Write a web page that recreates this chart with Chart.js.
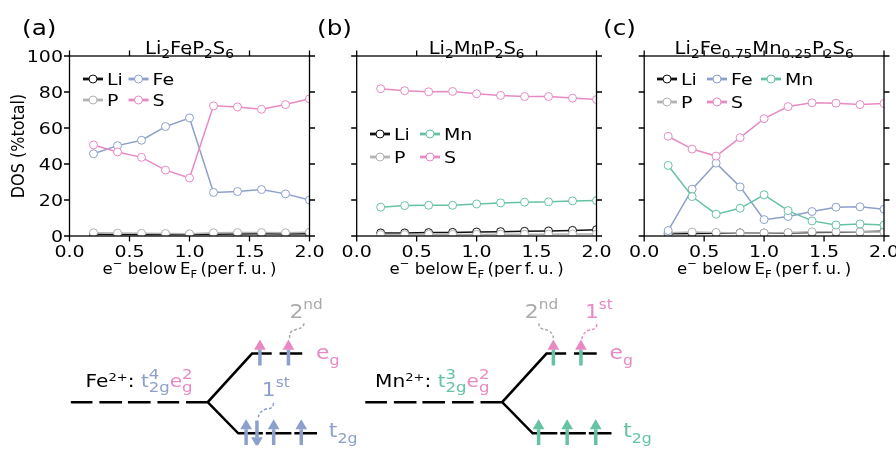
<!DOCTYPE html>
<html>
<head>
<meta charset="utf-8">
<script src="https://cdn.jsdelivr.net/npm/chart.js@4.4.0/dist/chart.umd.min.js"></script>
<style>
  html, body { margin: 0; padding: 0; background: #fff; }
  #wrap { position: relative; width: 896px; height: 452px; overflow: hidden; }
  canvas { position: absolute; left: 0; }
</style>
</head>
<body>
<div id="wrap">
  <canvas id="chartA" width="896" height="290" style="top:0"></canvas>
  <canvas id="chartB" width="896" height="290" style="top:0"></canvas>
  <canvas id="chartC" width="896" height="290" style="top:0"></canvas>
  <canvas id="scheme" width="896" height="162" style="top:290px"></canvas>
</div>
<script>
// ---- data ----
const xValues = [0.2, 0.4, 0.6, 0.8, 1.0, 1.2, 1.4, 1.6, 1.8, 2.0];
const xTicks = [0, 0.5, 1, 1.5, 2];
const xTickLabels = ['0.0', '0.5', '1.0', '1.5', '2.0'];
const yTicks = [0, 20, 40, 60, 80, 100];

// (a) Li2FeP2S6
const feLi = [1.0, 0.9, 0.9, 0.9, 0.8, 1.0, 1.1, 1.2, 1.1, 1.3];
const feP  = [1.8, 1.6, 1.5, 1.4, 1.2, 1.8, 1.9, 1.9, 1.8, 2.1];
const feFe = [45.7, 50.2, 53.2, 60.8, 65.6, 24.2, 24.7, 25.8, 23.4, 20.0];
const feS  = [50.6, 46.7, 43.7, 36.6, 32.2, 72.3, 71.7, 70.4, 73.0, 76.2];
// (b) Li2MnP2S6
const mnLi = [1.7, 1.7, 1.9, 2.0, 2.2, 2.4, 2.6, 2.8, 3.1, 3.5];
const mnP  = [0.8, 0.8, 0.9, 0.9, 0.9, 1.0, 1.0, 1.0, 1.1, 1.1];
const mnMn = [16.0, 16.9, 17.1, 17.1, 17.8, 18.4, 18.8, 19.0, 19.5, 19.7];
const mnS  = [81.8, 80.7, 80.1, 80.3, 79.0, 78.1, 77.5, 77.5, 76.6, 75.8];
// (c) Li2Fe0.75Mn0.25P2S6
const mixLi = [1.2, 1.4, 1.5, 1.7, 1.6, 1.7, 1.9, 2.1, 2.3, 2.6];
const mixP  = [1.8, 2.2, 2.0, 1.6, 1.7, 1.9, 2.3, 2.4, 2.3, 2.2];
const mixFe = [3.0, 26.0, 40.5, 27.3, 9.1, 10.8, 13.6, 16.0, 16.2, 14.9];
const mixS  = [55.4, 48.3, 44.4, 54.6, 65.2, 71.9, 74.0, 73.8, 73.0, 73.6];
const mixMn = [39.2, 21.9, 12.1, 15.4, 22.9, 14.1, 8.4, 6.1, 6.7, 6.1];

const colors = { Li: '#111111', P: '#b3b3b3', Fe: '#8da0cb', Mn: '#66c2a5', S: '#e78ac3' };

// ---- text helpers (sub/superscripts) ----
const FONT = '"DejaVu Sans"';
const TEXT_SX = 1.15;
const sub = (t, c) => ({ t, c, s: 0.7, dy: 0.24 });

function segWidth(ctx, seg, size) {
  ctx.font = (size * (seg.s || 1)) + 'px ' + FONT;
  if (seg.stack) return Math.max(ctx.measureText(seg.stack[0]).width, ctx.measureText(seg.stack[1]).width);
  return ctx.measureText(seg.t).width;
}

// fitW: optional total width on screen
function drawRich(ctx, segs, x, y, size, align, fitW) {
  let w = 0;
  segs.forEach(sg => { w += segWidth(ctx, sg, size); });
  const sx = fitW ? fitW / w : TEXT_SX;
  ctx.save();
  ctx.translate(x, y);
  ctx.scale(sx, 1);
  ctx.textAlign = 'left';
  ctx.textBaseline = 'alphabetic';
  let cx = align === 'center' ? -w / 2 : (align === 'right' ? -w : 0);
  segs.forEach(sg => {
    const sw = segWidth(ctx, sg, size);
    ctx.fillStyle = sg.c || '#000';
    if (sg.stack) {
      ctx.fillText(sg.stack[0], cx, -0.45 * size);
      ctx.fillText(sg.stack[1], cx, 0.33 * size);
    } else {
      ctx.fillText(sg.t, cx, (sg.dy || 0) * size);
    }
    cx += sw;
  });
  ctx.restore();
}

const xLabelSegs = [{ t: 'e' }, { t: '\u2212', s: 0.7, dy: -0.45 }, { t: ' below\u2009' }, { t: 'E' }, sub('F'),
  { t: '\u2009(per\u2009f.\u2009u.\u2009)' }];

// ---- panel decoration: frame, ticks, labels, legend ----
const panelDecor = {
  id: 'panelDecor',
  afterDraw(chart, args, o) {
    const { ctx, chartArea: a } = chart;
    const xs = chart.scales.x, ys = chart.scales.y;
    ctx.save();
    ctx.strokeStyle = '#000';
    ctx.lineWidth = 1.3;
    ctx.strokeRect(a.left, a.top, a.right - a.left, a.bottom - a.top);
    ctx.beginPath();
    xTicks.forEach(v => {
      const px = xs.getPixelForValue(v);
      ctx.moveTo(px, a.bottom); ctx.lineTo(px, a.bottom + 5.5);
      ctx.moveTo(px, a.top); ctx.lineTo(px, a.top - 5.5);
    });
    yTicks.forEach(v => {
      const py = ys.getPixelForValue(v);
      ctx.moveTo(a.left, py); ctx.lineTo(a.left - 5.5, py);
      ctx.moveTo(a.right, py); ctx.lineTo(a.right + 5.5, py);
    });
    ctx.stroke();

    xTicks.forEach((v, i) => drawRich(ctx, [{ t: xTickLabels[i] }], xs.getPixelForValue(v), 257, 16.5, 'center'));
    if (o.yLabels) {
      yTicks.forEach(v => drawRich(ctx, [{ t: String(v) }], a.left - 6.5, ys.getPixelForValue(v) + 6, 16.5, 'right'));
      ctx.save();
      ctx.translate(19, (a.top + a.bottom) / 2);
      ctx.scale(TEXT_SX, 1);
      ctx.rotate(-Math.PI / 2);
      ctx.font = '16px ' + FONT;
      ctx.fillStyle = '#000';
      ctx.textAlign = 'center';
      ctx.textBaseline = 'middle';
      ctx.fillText('DOS (%total)', 0, 0);
      ctx.restore();
    }
    drawRich(ctx, xLabelSegs, (a.left + a.right) / 2, 274, 16, 'center', 174);
    drawRich(ctx, o.title, (a.left + a.right) / 2, 54, 17, 'center');
    drawRich(ctx, [{ t: o.letter }], o.letterX, 35, 21.5, 'left');

    // legend
    o.legend.items.forEach(it => {
      const hx = o.legend.cols[it.col], hy = o.legend.rows[it.row];
      const c = colors[it.name];
      ctx.strokeStyle = c;
      ctx.lineWidth = 2.8;
      ctx.beginPath(); ctx.moveTo(hx, hy); ctx.lineTo(hx + 20, hy); ctx.stroke();
      ctx.lineWidth = 1;
      ctx.fillStyle = '#fff';
      ctx.beginPath(); ctx.arc(hx + 10, hy, 4, 0, Math.PI * 2); ctx.fill(); ctx.stroke();
      drawRich(ctx, [{ t: it.name }], hx + 24, hy + 6, 16.5, 'left');
    });
    ctx.restore();
  }
};

function panelChart(id, area, series, decor) {
  return new Chart(document.getElementById(id), {
    type: 'scatter',
    data: {
      datasets: series.map((s, i) => ({
        label: s.name,
        data: xValues.map((x, j) => ({ x, y: s.values[j] })),
        showLine: true,
        borderColor: colors[s.name],
        borderWidth: 1.5,
        pointRadius: 4,
        pointBorderWidth: 1,
        pointBackgroundColor: '#fff',
        pointBorderColor: colors[s.name],
        order: series.length - i
      }))
    },
    options: {
      responsive: false,
      animation: false,
      layout: { padding: { left: area.left, right: 896 - area.right, top: area.top, bottom: 290 - area.bottom } },
      scales: {
        x: { type: 'linear', min: 0, max: 2, display: false },
        y: { type: 'linear', min: 0, max: 100, display: false }
      },
      plugins: { legend: { display: false }, tooltip: { enabled: false }, panelDecor: decor }
    },
    plugins: [panelDecor]
  });
}

panelChart('chartA', { left: 69.5, right: 309.5, top: 56, bottom: 236 },
  [{ name: 'Li', values: feLi }, { name: 'P', values: feP }, { name: 'Fe', values: feFe }, { name: 'S', values: feS }],
  {
    yLabels: true, letter: '(a)', letterX: 22,
    title: [{ t: 'Li' }, sub('2'), { t: 'FeP' }, sub('2'), { t: 'S' }, sub('6')],
    legend: { cols: [83, 128.5], rows: [79, 100],
      items: [{ name: 'Li', col: 0, row: 0 }, { name: 'P', col: 0, row: 1 }, { name: 'Fe', col: 1, row: 0 }, { name: 'S', col: 1, row: 1 }] }
  });

panelChart('chartB', { left: 356.7, right: 596.5, top: 56, bottom: 236 },
  [{ name: 'Li', values: mnLi }, { name: 'P', values: mnP }, { name: 'Mn', values: mnMn }, { name: 'S', values: mnS }],
  {
    yLabels: false, letter: '(b)', letterX: 317,
    title: [{ t: 'Li' }, sub('2'), { t: 'MnP' }, sub('2'), { t: 'S' }, sub('6')],
    legend: { cols: [370, 420], rows: [134, 157],
      items: [{ name: 'Li', col: 0, row: 0 }, { name: 'P', col: 0, row: 1 }, { name: 'Mn', col: 1, row: 0 }, { name: 'S', col: 1, row: 1 }] }
  });

panelChart('chartC', { left: 644.2, right: 884, top: 56, bottom: 236 },
  [{ name: 'Li', values: mixLi }, { name: 'P', values: mixP }, { name: 'Fe', values: mixFe }, { name: 'S', values: mixS }, { name: 'Mn', values: mixMn }],
  {
    yLabels: false, letter: '(c)', letterX: 603,
    title: [{ t: 'Li' }, sub('2'), { t: 'Fe' }, sub('0.75'), { t: 'Mn' }, sub('0.25'), { t: 'P' }, sub('2'), { t: 'S' }, sub('6')],
    legend: { cols: [657, 707, 761], rows: [79, 102],
      items: [{ name: 'Li', col: 0, row: 0 }, { name: 'P', col: 0, row: 1 }, { name: 'Fe', col: 1, row: 0 },
              { name: 'S', col: 1, row: 1 }, { name: 'Mn', col: 2, row: 0 }] }
  });

// ---- crystal-field schemes (d) Fe2+, (e) Mn2+ ----
// units: px-like, x relative to the split point, y = energy (up)
const schemeOffsets = [0, 299];
const EG = 53, T2G = -34;
const levelPaths = [
  [[-139, 0], [-117, 0]], [[-110, 0], [-87, 0]], [[-81, 0], [-58, 0]], [[-51, 0], [-29, 0]],
  [[-22, 0], [0, 0], [45, EG], [65, EG]], [[73, EG], [96, EG]],
  [[0, 0], [31, T2G], [56, T2G]], [[59, T2G], [85, T2G]], [[88, T2G], [111, T2G]]
];
// arrows: x, level, direction (1 up / -1 down), shaft colour, head colour
const feArrows = [
  { x: 53, lvl: EG, dir: 1, shaft: 'Fe', head: 'S' }, { x: 82, lvl: EG, dir: 1, shaft: 'Fe', head: 'S' },
  { x: 39, lvl: T2G, dir: 1, shaft: 'Fe', head: 'Fe' }, { x: 50, lvl: T2G, dir: -1, shaft: 'Fe', head: 'Fe' },
  { x: 67, lvl: T2G, dir: 1, shaft: 'Fe', head: 'Fe' }, { x: 95, lvl: T2G, dir: 1, shaft: 'Fe', head: 'Fe' }
];
const mnArrows = [
  { x: 52, lvl: EG, dir: 1, shaft: 'Mn', head: 'S' }, { x: 80, lvl: EG, dir: 1, shaft: 'Mn', head: 'S' },
  { x: 37, lvl: T2G, dir: 1, shaft: 'Mn', head: 'Mn' }, { x: 66, lvl: T2G, dir: 1, shaft: 'Mn', head: 'Mn' },
  { x: 95, lvl: T2G, dir: 1, shaft: 'Mn', head: 'Mn' }
];
// dashed wiggles pointing from the ordinal labels to the arrows
const wiggles = [
  { off: 0, c: '#8da0cb', pts: [[67, -1], [65, -6], [58, -8], [53, -12], [51, -18]] },
  { off: 0, c: '#aaaaaa', pts: [[98, 86], [96, 82], [89, 79], [84, 76], [83, 70]] },
  { off: 299, c: '#aaaaaa', pts: [[37, 86], [39, 81], [47, 78], [51, 74], [52, 70]] },
  { off: 299, c: '#e78ac3', pts: [[96, 85], [95, 81], [87, 78], [82, 73], [81, 69]] }
];

function schemeDatasets() {
  const ds = [];
  const black = [];
  schemeOffsets.forEach(off => {
    levelPaths.forEach(p => {
      p.forEach(([x, y]) => black.push({ x: x + off, y }));
      black.push({ x: p[p.length - 1][0] + off, y: null });
    });
  });
  ds.push({ data: black, showLine: true, borderColor: '#000', borderWidth: 2.5, pointRadius: 0, borderCapStyle: 'butt', order: 3 });

  [[feArrows, 0], [mnArrows, 299]].forEach(([arrows, off]) => {
    arrows.forEach(a => {
      const tail = a.dir > 0 ? a.lvl - 13 : a.lvl + 14;
      const neck = a.dir > 0 ? a.lvl + 4.5 : a.lvl - 4.5;
      ds.push({ data: [{ x: a.x + off, y: tail }, { x: a.x + off, y: neck }], showLine: true,
        borderColor: colors[a.shaft], borderWidth: 3.5, pointRadius: 0, borderCapStyle: 'butt', order: 2 });
      ds.push({ data: [{ x: a.x + off, y: a.lvl + a.dir * 8 }], showLine: false, pointStyle: 'triangle',
        pointRadius: 6.8, rotation: a.dir > 0 ? 0 : 180, pointBackgroundColor: colors[a.head],
        pointBorderWidth: 0, pointBorderColor: colors[a.head], order: 1 });
    });
  });

  wiggles.forEach(w => {
    ds.push({ data: w.pts.map(([x, y]) => ({ x: x + w.off, y })), showLine: true, tension: 0.45,
      borderColor: w.c, borderWidth: 1.5, borderDash: [3, 2], pointRadius: 0, order: 0 });
  });
  return ds;
}

const blue = colors.Fe, green = colors.Mn, pink = colors.S, grey = '#aaaaaa';
const schemeText = {
  id: 'schemeText',
  afterDraw(chart) {
    const { ctx } = chart;
    const xs = chart.scales.x, ys = chart.scales.y;
    const P = (x, y) => [xs.getPixelForValue(x), ys.getPixelForValue(y)];
    const put = (segs, x, y, size) => { const [px, py] = P(x, y); drawRich(ctx, segs, px, py, size, 'left'); };
    const ordinal = (n, s, c) => [{ t: n, c }, { t: s, c, s: 0.7, dy: -0.45 }];

    drawRich(ctx, [{ t: '(d)' }], 22, 342, 21.5, 'left');
    drawRich(ctx, [{ t: '(e)' }], 345, 341, 21.5, 'left');

    // Fe2+
    put([{ t: 'Fe' }, { t: '2+', s: 0.65, dy: -0.32 }, { t: ': ' }, { t: 't', c: blue },
         { stack: ['4', '2g'], c: blue, s: 0.82 }, { t: 'e', c: pink }, { stack: ['2', 'g'], c: pink, s: 0.82 }], -124, 17, 17.5);
    put([{ t: 'e', c: pink }, { t: 'g', c: pink, s: 0.72, dy: 0.3 }], 110, 47, 19);
    put([{ t: 't', c: blue }, { t: '2g', c: blue, s: 0.72, dy: 0.3 }], 123, -38, 19);
    put(ordinal('1', 'st', blue), 55, 7, 19);
    put(ordinal('2', 'nd', grey), 83, 92, 19);

    // Mn2+
    put([{ t: 'Mn' }, { t: '2+', s: 0.65, dy: -0.32 }, { t: ': ' }, { t: 't', c: green },
         { stack: ['3', '2g'], c: green, s: 0.82 }, { t: 'e', c: pink }, { stack: ['2', 'g'], c: pink, s: 0.82 }], 299 - 129, 17, 17.5);
    put([{ t: 'e', c: pink }, { t: 'g', c: pink, s: 0.72, dy: 0.3 }], 299 + 109, 47, 19);
    put([{ t: 't', c: green }, { t: '2g', c: green, s: 0.72, dy: 0.3 }], 299 + 123, -38, 19);
    put(ordinal('2', 'nd', grey), 299 + 23, 92, 19);
    put(ordinal('1', 'st', pink), 299 + 84, 92, 19);
  }
};

new Chart(document.getElementById('scheme'), {
  type: 'scatter',
  data: { datasets: schemeDatasets() },
  options: {
    responsive: false,
    animation: false,
    layout: { padding: 0 },
    scales: {
      x: { type: 'linear', min: -204, max: 692, display: false },
      y: { type: 'linear', min: -47, max: 115, display: false }
    },
    plugins: { legend: { display: false }, tooltip: { enabled: false } }
  },
  plugins: [schemeText]
});
</script>
</body>
</html>
